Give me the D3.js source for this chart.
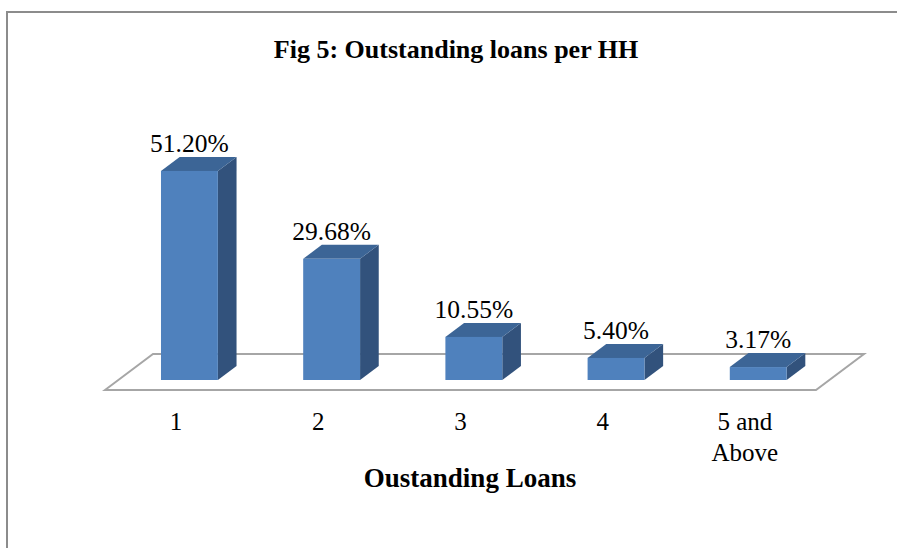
<!DOCTYPE html>
<html>
<head>
<meta charset="utf-8">
<script src="https://cdn.jsdelivr.net/npm/d3@7"></script>
<style>
  body { margin: 0; background: #fff; }
  text { font-family: "Liberation Serif", "Times New Roman", serif; fill: #000; }
</style>
</head>
<body>
<div id="chart"></div>
<script>
// Data
const categories = ["1", "2", "3", "4", "5 and Above"];
const shares = [51.20, 29.68, 10.55, 5.40, 3.17];
const valueLabels = ["51.20%", "29.68%", "10.55%", "5.40%", "3.17%"];
const categoryLines = [["1"], ["2"], ["3"], ["4"], ["5 and", "Above"]];

const width = 897, height = 548;

const svg = d3.select("#chart")
  .append("svg").attr("width", width).attr("height", height);

// chart frame (runs off the right and bottom)
svg.append("rect")
  .attr("x", 7).attr("y", 12)
  .attr("width", 920).attr("height", 560)
  .attr("fill", "none")
  .attr("stroke", "#8c8c8c")
  .attr("stroke-width", 2);

// ==== floor geometry ====
const floorY = 390;            // front edge of the floor
const depthX = 48, depthY = 36; // floor depth vector
const t0 = 10 / 36, t1 = 24 / 36; // bar front / back depth fraction

const x = d3.scaleBand()
  .domain(categories)
  .range([105, 816]);

const y = d3.scaleLinear()
  .domain([0, 60])
  .range([0, 245]);

// floor parallelogram
const floor = [
  [105, floorY],
  [105 + depthX, floorY - depthY],
  [816 + depthX, floorY - depthY],
  [816, floorY]
];
svg.append("polygon")
  .attr("points", floor.map(p => p.join(",")).join(" "))
  .attr("fill", "none")
  .attr("stroke", "#a6a6a6")
  .attr("stroke-width", 2);

// ==== 3D bars ====
const barW = x.step() * 0.4;
const bars = categories.map((c, i) => {
  const cx = x(c) + x.bandwidth() / 2 + t0 * depthX;
  const x0 = cx - barW / 2;
  const base = floorY - t0 * depthY;
  const h = y(shares[i]);
  const dx = (t1 - t0) * depthX, dy = (t1 - t0) * depthY;
  return {c, i, x0, x1: x0 + barW, top: base - h, base, dx, dy, cx};
});

const g = svg.append("g");

// side face
g.selectAll("polygon.side")
  .data(bars)
  .join("polygon")
  .attr("class", "side")
  .attr("points", d => [
    [d.x1, d.top], [d.x1 + d.dx, d.top - d.dy],
    [d.x1 + d.dx, d.base - d.dy], [d.x1, d.base]
  ].map(p => p.join(",")).join(" "))
  .attr("fill", "#32527c");

// top face
g.selectAll("polygon.top")
  .data(bars)
  .join("polygon")
  .attr("class", "top")
  .attr("points", d => [
    [d.x0, d.top], [d.x0 + d.dx, d.top - d.dy],
    [d.x1 + d.dx, d.top - d.dy], [d.x1, d.top]
  ].map(p => p.join(",")).join(" "))
  .attr("fill", "#3c6596");

// front face
g.selectAll("rect.front")
  .data(bars)
  .join("rect")
  .attr("class", "front")
  .attr("x", d => d.x0)
  .attr("y", d => d.top)
  .attr("width", barW)
  .attr("height", d => d.base - d.top)
  .attr("fill", "#4f81bd");

// value labels
svg.selectAll("text.value")
  .data(bars)
  .join("text")
  .attr("class", "value")
  .attr("x", d => d.cx)
  .attr("y", d => d.top - d.dy - 5)
  .attr("text-anchor", "middle")
  .style("font-size", "25.5px")
  .text(d => valueLabels[d.i]);

// category labels
const cat = svg.selectAll("text.cat")
  .data(categories)
  .join("text")
  .attr("class", "cat")
  .attr("x", d => x(d) + x.bandwidth() / 2)
  .attr("y", 430)
  .attr("text-anchor", "middle")
  .style("font-size", "25px");

cat.selectAll("tspan")
  .data((d, i) => categoryLines[i])
  .join("tspan")
  .attr("x", function() { return d3.select(this.parentNode).attr("x"); })
  .attr("dy", (d, j) => j === 0 ? 0 : 31)
  .text(d => d);

// axis title
svg.append("text")
  .attr("x", 470)
  .attr("y", 487)
  .attr("text-anchor", "middle")
  .style("font-size", "27px")
  .style("font-weight", "bold")
  .text("Oustanding Loans");

// chart title
svg.append("text")
  .attr("x", 456)
  .attr("y", 58)
  .attr("text-anchor", "middle")
  .style("font-size", "26px")
  .style("font-weight", "bold")
  .text("Fig 5: Outstanding loans per HH");
</script>
</body>
</html>
